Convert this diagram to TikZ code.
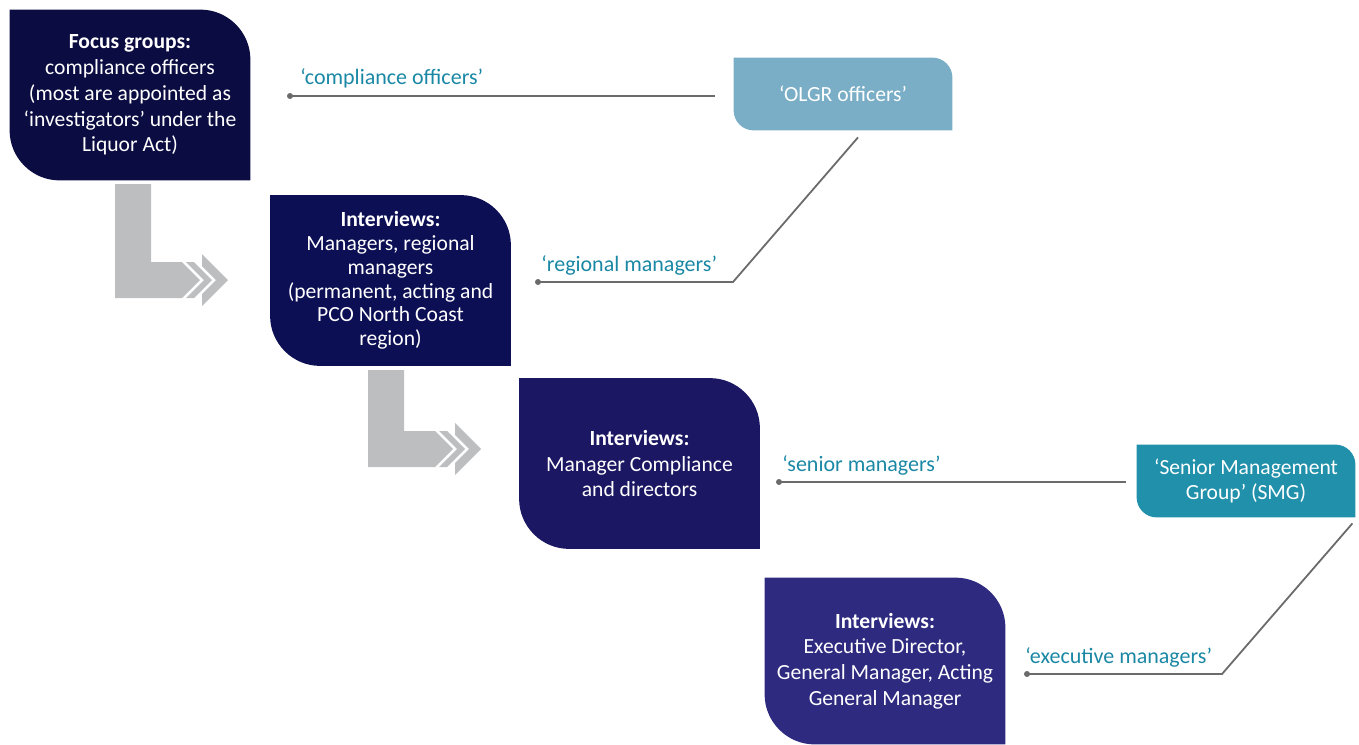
\documentclass[tikz,border=0pt]{standalone}
\usepackage{fontspec}
\setmainfont{Carlito}
\usetikzlibrary{calc,backgrounds}

\definecolor{stageA}{HTML}{0B0C42}
\definecolor{stageB}{HTML}{0D0F55}
\definecolor{stageC}{HTML}{1C1762}
\definecolor{stageD}{HTML}{2E2A80}
\definecolor{termA}{HTML}{7AAEC6}
\definecolor{termB}{HTML}{2190AA}
\definecolor{quoteteal}{HTML}{1A88A5}
\definecolor{linegray}{HTML}{6B6B6B}
\definecolor{arrowgray}{HTML}{BCBEC0}

\tikzset{
  stage/.style={text=white, align=center, inner sep=0pt,
    minimum width=120pt, minimum height=85pt,
    font=\fontsize{10.8}{12.9}\selectfont},
  term/.style={text=white, align=center, inner sep=0pt,
    minimum width=109pt, minimum height=36pt,
    font=\fontsize{10.8}{12.9}\selectfont},
  quote/.style={text=quoteteal, anchor=base west, inner sep=0pt,
    font=\fontsize{11}{13}\selectfont},
  link/.style={draw=linegray, line width=0.9pt},
  dot/.style={circle, fill=linegray, inner sep=0pt, minimum size=3pt},
  turn/.style={fill=arrowgray}
}

% box with top right and bottom left corners rounded: node, colour, radius
\newcommand\leaf[3]{%
  \fill[#2] (#1.north west) -- ($(#1.north east)+(-#3,0)$)
    .. controls ($(#1.north east)+(-0.45*#3,0)$) and ($(#1.north east)+(0,0.45*#3)$) .. ($(#1.north east)+(0,#3)$)
    -- (#1.south east) -- ($(#1.south west)+(#3,0)$)
    .. controls ($(#1.south west)+(0.45*#3,0)$) and ($(#1.south west)+(0,-0.45*#3)$) .. ($(#1.south west)+(0,-#3)$)
    -- cycle;}

% grey elbow with chevrons: left, top, bottom
\newcommand\elbow[3]{%
  \begin{scope}[shift={(#1,#3)}]
    \fill[turn] (0,#2-#3) -- (36,#2-#3) -- (36,-36) -- (67,-36) -- (85,-18) -- (67,0) -- (0,0) -- cycle;
    \fill[turn] (71,-36) -- (89,-18) -- (71,0) -- (79,0) -- (97,-18) -- (79,-36) -- cycle;
    \fill[turn] (87,-44) -- (113,-18) -- (87,8) -- (87,-4) -- (101,-18) -- (87,-32) -- cycle;
  \end{scope}}

\begin{document}
\begin{tikzpicture}[x=0.5pt,y=-0.5pt]
\useasboundingbox (0,0) rectangle (1359,744);

% stages
\node[stage] (focus) at (130,95) {\textbf{Focus groups:}\\compliance officers\\(most are appointed as\\‘investigators’ under the\\Liquor Act)};
\node[stage, font=\fontsize{10.8}{11.9}\selectfont] (regional) at (390.5,280.5) {\textbf{Interviews:}\\Managers, regional\\managers\\(permanent, acting and\\PCO North Coast\\region)};
\node[stage] (compliance) at (639.5,463.5) {\textbf{Interviews:}\\Manager Compliance\\and directors};
\node[stage, minimum height=83pt] (executive) at (885,661) {\textbf{Interviews:}\\Executive Director,\\General Manager, Acting\\General Manager};

% terms used
\node[term] (olgr) at (843,94) {‘OLGR officers’};
\node[term] (smg) at (1246,481) {‘Senior Management\\Group’ (SMG)};

\begin{scope}[on background layer]
  \leaf{focus}{stageA}{50}
  \leaf{regional}{stageB}{50}
  \leaf{compliance}{stageC}{50}
  \leaf{executive}{stageD}{50}
  \leaf{olgr}{termA}{20}
  \leaf{smg}{termB}{20}
\end{scope}

\elbow{115}{184}{298}
\elbow{368}{370}{467}

% what each group calls the others
\node[dot] (codot) at (290,96) {};
\draw[link] (codot.center) -- ($(olgr.west)+(-19,2)$);
\node[quote] (coterm) at (300,84) {‘compliance officers’};

\node[dot] (rmdot) at (538,282) {};
\draw[link] (rmdot.center) -- ++(195,0) -- ($(olgr.south)+(15,7)$);
\node[quote] (rmterm) at (541,271) {‘regional managers’};

\node[dot] (smdot) at (779,482) {};
\draw[link] (smdot.center) -- ($(smg.west)+(-11,1)$);
\node[quote] (smterm) at (782,471) {‘senior managers’};

\node[dot] (emdot) at (1027,674) {};
\draw[link] (emdot.center) -- ++(195,0) -- ($(smg.south east)+(-3,6)$);
\node[quote] (emterm) at (1025,663) {‘executive managers’};

\end{tikzpicture}
\end{document}
